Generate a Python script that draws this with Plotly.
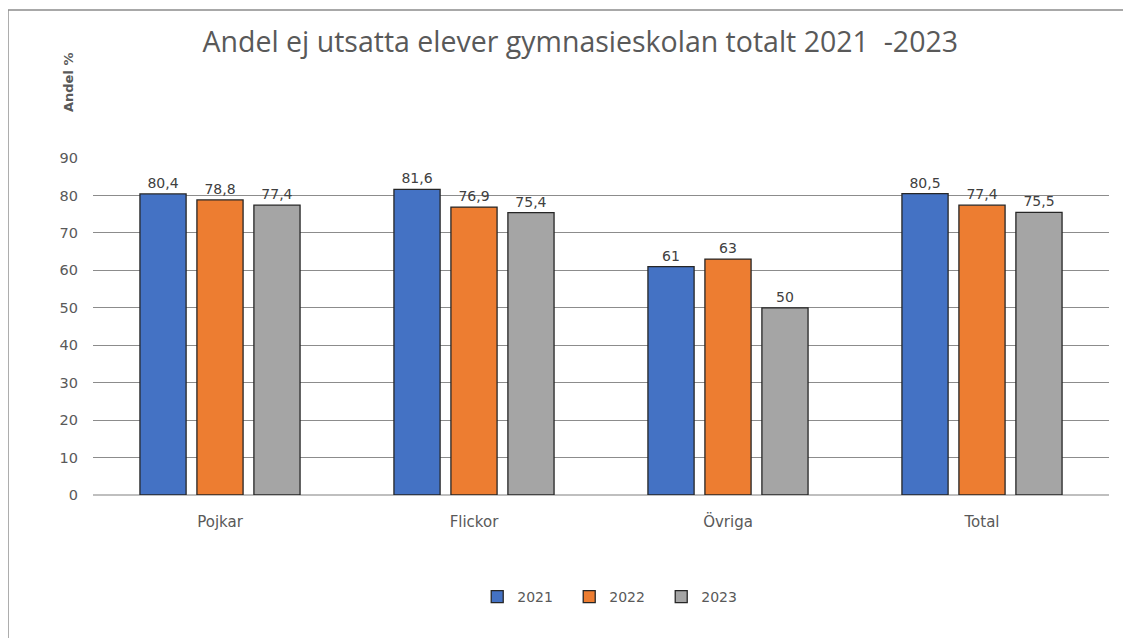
import plotly.graph_objects as go

categories = ["Pojkar", "Flickor", "Övriga", "Total"]
years = ["2021", "2022", "2023"]
values_2021 = [80.4, 81.6, 61, 80.5]
values_2022 = [78.8, 76.9, 63, 77.4]
values_2023 = [77.4, 75.4, 50, 75.5]
colors = ["#4472C4", "#ED7D31", "#A5A5A5"]
yticks = [0, 10, 20, 30, 40, 50, 60, 70, 80, 90]

def fmt(v):
    s = ("%g" % v)
    return s.replace(".", ",")

FONT = "DejaVu Sans"

fig = go.Figure()
for name, vals, col in zip(years, [values_2021, values_2022, values_2023], colors):
    fig.add_trace(go.Bar(
        x=categories, y=vals, name=name,
        marker=dict(color=col, line=dict(color="#262626", width=1.3)),
        text=[fmt(v) for v in vals], textposition="outside",
        textfont=dict(family=FONT, size=14, color="#404040"),
        cliponaxis=False,
    ))

fig.update_layout(
    width=1131, height=638,
    margin=dict(l=85, r=30, t=150, b=151),
    paper_bgcolor="white", plot_bgcolor="white",
    barmode="group", bargap=0.327, bargroupgap=0.19,
    title=dict(text="Andel ej utsatta elever gymnasieskolan totalt 2021  -2023",
               x=0.506, xanchor="center", y=0.947, yanchor="middle",
               font=dict(family="Open Sans", size=28.5, color="#595959")),
    font=dict(family=FONT, size=13, color="#595959"),
    showlegend=True,
    legend=dict(orientation="h", x=0.514, xanchor="center", y=-0.303, yanchor="middle",
                font=dict(family=FONT, size=14, color="#595959"),
                entrywidth=47, itemwidth=30, traceorder="normal"),
    xaxis=dict(showgrid=False, showline=False, ticks="", ticklabelstandoff=16,
               tickfont=dict(family=FONT, size=15, color="#595959")),
    yaxis=dict(range=[0, 90], tickvals=yticks, showgrid=True, gridcolor="#8c8c8c",
               gridwidth=1, zeroline=True, zerolinecolor="#bfbfbf", zerolinewidth=2,
               ticks="", ticklabelstandoff=14,
               tickfont=dict(family=FONT, size=14.5, color="#595959")),
)

fig.add_annotation(text="<b>Andel %</b>", xref="paper", yref="paper",
                   x=-0.0236, y=1.2226, xanchor="center", yanchor="middle",
                   textangle=-90, showarrow=False,
                   font=dict(family=FONT, size=13, color="#595959"))

fig.add_shape(type="rect", xref="paper", yref="paper",
              x0=-0.0837, x1=1.05, y0=-0.6, y1=1.439,
              line=dict(color="#8c8c8c", width=1.5), layer="below")

fig.write_html("out.html")
